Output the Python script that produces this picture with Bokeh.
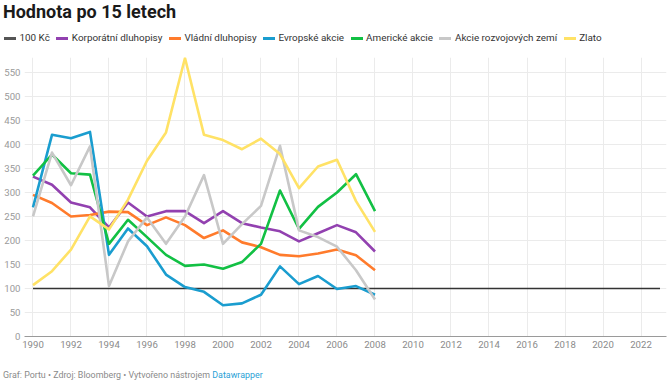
from bokeh.plotting import figure
from bokeh.models import FixedTicker, Range1d, Div
from bokeh.layouts import column
from bokeh.embed import file_html
from bokeh.resources import INLINE

# ---- data ----
years = list(range(1990, 2009))
base_years = [1990, 2023]
base_values = [100, 100]
korporatni = [333, 316, 279, 269, 227, 279, 250, 261, 261, 236, 261, 236, 227, 219, 198, 215, 232, 217, 177]
vladni = [295, 278, 250, 253, 260, 259, 232, 248, 232, 205, 221, 196, 186, 170, 167, 173, 181, 169, 138]
evropske = [269, 420, 413, 426, 170, 225, 188, 129, 103, 93, 65, 69, 87, 146, 109, 126, 99, 105, 87]
americke = [335, 379, 340, 337, 193, 243, 207, 170, 147, 150, 141, 155, 193, 304, 224, 270, 300, 338, 261]
rozvojove = [250, 383, 315, 396, 105, 198, 248, 193, 250, 336, 193, 234, 272, 397, 221, 207, 187, 138, 77]
zlato = [107, 136, 181, 250, 223, 285, 366, 425, 580, 420, 409, 390, 412, 380, 309, 354, 368, 282, 218]

base_name = "100 Kč"
series_names = ["Korporátní dluhopisy", "Vládní dluhopisy", "Evropské akcie",
                "Americké akcie", "Akcie rozvojových zemí", "Zlato"]
series_values = [korporatni, vladni, evropske, americke, rozvojove, zlato]
series_colors = ["#9241b0", "#ff7b2c", "#1a9dcf", "#12c044", "#c8c8c8", "#ffe266"]
base_color = "#333333"

x_ticks = list(range(1990, 2023, 2))
y_ticks = list(range(0, 551, 50))

title_text = "Hodnota po 15 letech"
footer_text = "Graf: Portu • Zdroj: Bloomberg • Vytvořeno nástrojem"
footer_link = "Datawrapper"

FONT = "Roboto"
W = 670
H_HEAD, H_MAIN, H_FOOT = 50, 307, 27

# ---- header: title + legend (HTML) ----
legend_html = ""
for name, col, thick in zip([base_name] + series_names, ["#555555"] + series_colors,
                            [2.5] + [3] * len(series_names)):
    legend_html += ('<span style="display:inline-flex;align-items:center;margin-right:6.5px">'
                    '<span style="display:inline-block;width:12px;height:%spx;background:%s;'
                    'margin-right:3.5px"></span><span>%s</span></span>' % (thick, col, name))

head = Div(
    text=('<div style="position:relative;width:%dpx;height:%dpx;font-family:Roboto;white-space:nowrap">'
          '<div style="position:absolute;left:3px;top:2px;font-weight:700;font-size:18px;'
          'line-height:20px;color:#1a1a1a">%s</div>'
          '<div style="position:absolute;left:4px;top:32.4px;font-size:9.9px;line-height:12px;'
          'color:#333333;display:flex;align-items:center">%s</div></div>'
          % (W, H_HEAD, title_text, legend_html)),
    width=W, height=H_HEAD, margin=(0, 0, 0, 0))

# ---- main chart ----
p = figure(width=W, height=H_MAIN, output_backend="svg", toolbar_location=None,
           x_range=Range1d(1989.553, 2023.342), y_range=Range1d(0, 581),
           min_border_left=24, min_border_right=4, min_border_top=7, min_border_bottom=21,
           margin=(0, 0, 0, 0))
p.outline_line_color = None
p.background_fill_color = "white"
p.border_fill_color = "white"

p.xaxis.ticker = FixedTicker(ticks=x_ticks)
p.yaxis.ticker = FixedTicker(ticks=y_ticks)
for ax in (p.xaxis, p.yaxis):
    ax.major_label_text_font = FONT
    ax.major_label_text_font_size = "9.6px"
    ax.major_tick_line_color = None
    ax.minor_tick_line_color = None
    ax.major_tick_out = 0
    ax.major_tick_in = 0
p.xaxis.major_label_text_color = "#8a8a8a"
p.yaxis.major_label_text_color = "#9a9a9a"
p.xaxis.axis_line_color = "#9a9a9a"
p.xaxis.major_label_standoff = 4
p.yaxis.axis_line_color = None
p.yaxis.major_label_standoff = 4

p.xgrid.ticker = FixedTicker(ticks=x_ticks)
p.xgrid.grid_line_color = "#ebebeb"
p.ygrid.grid_line_color = "#ebebeb"

p.line(base_years, base_values, line_color=base_color, line_width=1.3)
for vals, col in zip(series_values, series_colors):
    p.line(years, vals, line_color=col, line_width=2.6, line_join="round")

# ---- footer (HTML) ----
foot = Div(
    text=('<div style="font-family:Roboto;font-size:8.9px;line-height:12px;padding-top:11.5px;'
          'padding-left:3px;color:#8a8a8a;white-space:nowrap">%s '
          '<span style="color:#2a9fd6">%s</span></div>' % (footer_text, footer_link)),
    width=W, height=H_FOOT, margin=(0, 0, 0, 0))

layout = column(head, p, foot, spacing=0)

open("out.html", "w").write(file_html(layout, INLINE))
